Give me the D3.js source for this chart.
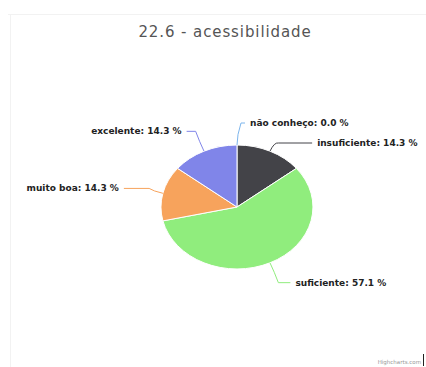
<!DOCTYPE html>
<html><head><meta charset="utf-8">
<script src="https://cdnjs.cloudflare.com/ajax/libs/d3/7.8.5/d3.min.js"></script>
<style>html,body{margin:0;padding:0;background:#fff;}svg{display:block;}</style>
</head><body>
<script>
const titleText = "22.6 - acessibilidade";
const categories = ["não conheço", "insuficiente", "suficiente", "muito boa", "excelente"];
const values = [0.0, 14.3, 57.1, 14.3, 14.3];
const colors = ["#7cb5ec", "#434348", "#90ed7d", "#f7a35c", "#8085e9"];

const W = 426, H = 367;
const cx = 237, cy = 207, rx = 76, ry = 62;
const svg = d3.select("body").append("svg").attr("width", W).attr("height", H);

// faint container edges
svg.append("line").attr("x1", 8).attr("x2", W).attr("y1", 14.5).attr("y2", 14.5).attr("stroke", "#f2f2f2");
svg.append("line").attr("x1", 10.5).attr("x2", 10.5).attr("y1", 14).attr("y2", H).attr("stroke", "#f2f2f2");

svg.append("text").attr("x", 225).attr("y", 37).attr("text-anchor", "middle")
  .attr("font-family", "DejaVu Sans, sans-serif").attr("font-size", 15).attr("letter-spacing", 0.9)
  .attr("fill", "#555")
  .text(titleText);

const pie = d3.pie().value(d => d).sort(null);
const arcs = pie(values);
const arc = d3.arc().innerRadius(0).outerRadius(1);

const g = svg.append("g").attr("transform", `translate(${cx},${cy}) scale(${rx},${ry})`);
g.selectAll("path").data(arcs).join("path")
  .attr("d", arc).attr("fill", (d, i) => colors[i])
  .attr("stroke", "#fff").attr("stroke-width", 1).attr("vector-effect", "non-scaling-stroke");

// labels (Highcharts-like layout)
const dX = 40, dY = 22, minGap = 20;
const items = arcs.map((a, i) => {
  const m = (a.startAngle + a.endAngle) / 2;
  const s = Math.sin(m), c = Math.cos(m);
  const side = s >= 0 ? 1 : -1;
  return {i, m, s, c, side, y: cy - (ry + dY) * c};
});
[1, -1].forEach(side => {
  const list = items.filter(d => d.side === side).sort((a, b) => a.y - b.y);
  for (let k = 1; k < list.length; k++) {
    if (list[k].y - list[k - 1].y < minGap) list[k].y = list[k - 1].y + minGap;
  }
});
items.forEach(d => {
  const t = Math.max(-1, Math.min(1, (d.y - cy) / (ry + dY)));
  d.x = cx + d.side * (rx + dX) * Math.sqrt(1 - t * t);
  d.px = cx + rx * d.s; d.py = cy - ry * d.c;
  d.bx = cx + (rx + 10) * d.s; d.by = cy - (ry + 10) * d.c;
});
items.find(d => d.i === 0).x += 8;
items.find(d => d.i === 2).x += 3;

svg.append("g").selectAll("path").data(items).join("path")
  .attr("d", d => `M${d.px},${d.py} Q${d.bx},${d.by} ${d.bx + d.side*4},${d.y} L${d.x},${d.y}`)
  .attr("fill", "none").attr("stroke", d => colors[d.i]).attr("stroke-width", 1);

svg.append("g").selectAll("text").data(items).join("text")
  .attr("x", d => d.x + d.side * 5).attr("y", d => d.y + 3)
  .attr("text-anchor", d => d.side > 0 ? "start" : "end")
  .attr("font-family", "DejaVu Sans, sans-serif").attr("font-weight", "bold")
  .attr("font-size", 9).attr("fill", "#222")
  .text(d => `${categories[d.i]}: ${values[d.i].toFixed(1)} %`);

svg.append("text").attr("x", 421).attr("y", 364).attr("text-anchor", "end")
  .attr("font-family", "DejaVu Sans, sans-serif").attr("font-size", 5.5).attr("fill", "#999")
  .text("Highcharts.com");
svg.append("line").attr("x1", 423.5).attr("x2", 423.5).attr("y1", 354).attr("y2", 366).attr("stroke", "#222");
</script>
</body></html>
